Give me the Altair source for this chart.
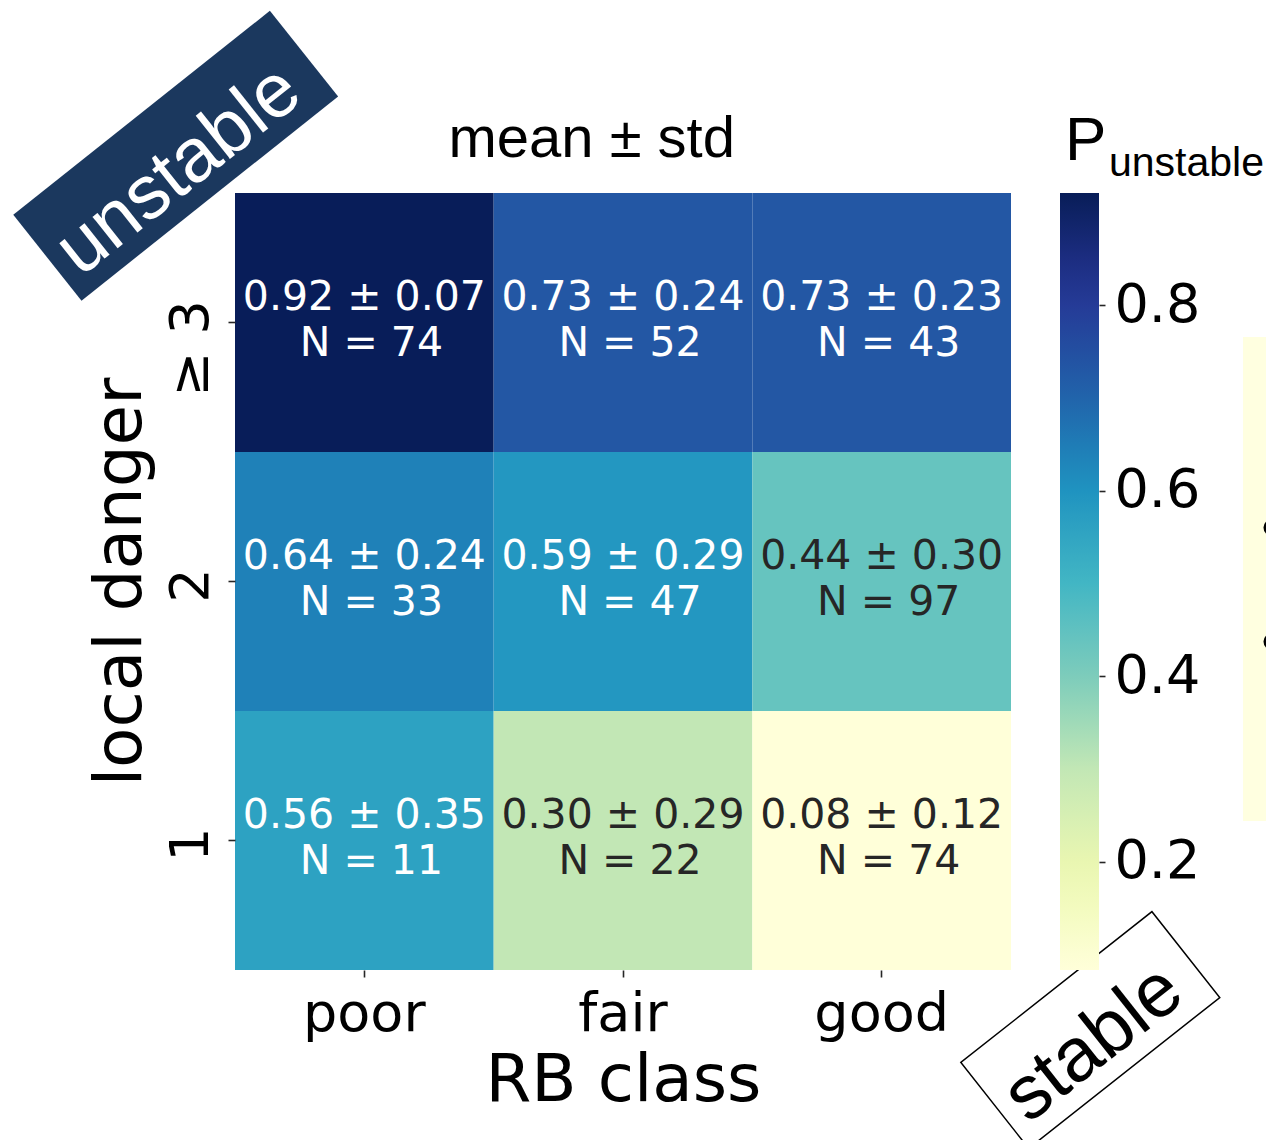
import altair as alt
import pandas as pd

# ---------------- data ----------------
rb_classes = ["poor", "fair", "good"]
danger_levels = ["≥ 3", "2", "1"]          # top -> bottom
means = [[0.92, 0.73, 0.73],
         [0.64, 0.59, 0.44],
         [0.56, 0.30, 0.08]]
stds = [[0.07, 0.24, 0.23],
        [0.24, 0.29, 0.30],
        [0.35, 0.29, 0.12]]
counts = [[74, 52, 43],
          [33, 47, 97],
          [11, 22, 74]]
cbar_ticks = [0.2, 0.4, 0.6, 0.8]
color_lo, color_hi = 0.083, 0.921
ylgnbu = ["#ffffd9", "#edf8b1", "#c7e9b4", "#7fcdbb", "#41b6c4",
          "#1d91c0", "#225ea8", "#253494", "#081d58"]

rows = []
for i, d in enumerate(danger_levels):
    for j, r in enumerate(rb_classes):
        rows.append({
            "rb": r, "danger": d, "mean": means[i][j], "std": stds[i][j],
            "n": counts[i][j],
            "line1": f"{means[i][j]:.2f} ± {stds[i][j]:.2f}",
            "line2": f"N = {counts[i][j]}",
        })
df = pd.DataFrame(rows)

# colour stops spread evenly over the colour-bar range (piecewise-linear YlGnBu)
nstops = len(ylgnbu)
color_stops = [color_lo + k * (color_hi - color_lo) / (nstops - 1) for k in range(nstops)]

W, H = 776, 777
DV = "DejaVu Sans"
AR = "Liberation Sans"

xscale = alt.Scale(type="band", domain=rb_classes, paddingInner=0, paddingOuter=0)
yscale = alt.Scale(type="band", domain=danger_levels, paddingInner=0, paddingOuter=0)

xaxis = alt.Axis(
    title="RB class", labelAngle=0, labelFont=DV, labelFontSize=54, labelColor="black",
    tickSize=7, tickColor="#262626", tickWidth=1.6, domain=False, labelPadding=10,
    titleFont=DV, titleFontSize=66, titleFontWeight="normal", titleColor="black",
    titleBaseline="alphabetic", titleY=130, titleX=W / 2, titleAlign="center",
)
yaxis = alt.Axis(
    title="local danger", labelAngle=270, labelAlign="center", labelBaseline="alphabetic",
    labelFont=DV, labelFontSize=54, labelColor="black", labelPadding=21,
    labelOffset={"condition": {"test": "datum.value === '≥ 3'", "value": 26}, "value": 4},
    tickSize=7, tickColor="#262626", tickWidth=1.6, domain=False,
    titleFont=DV, titleFontSize=66, titleFontWeight="normal", titleColor="black",
    titleAngle=270, titleBaseline="alphabetic", titleAlign="center", titleX=-95, titleY=H / 2,
)

heat = alt.Chart(df).mark_rect().encode(
    x=alt.X("rb:N", scale=xscale, axis=xaxis),
    y=alt.Y("danger:N", scale=yscale, axis=yaxis),
    color=alt.Color(
        "mean:Q",
        scale=alt.Scale(domain=color_stops, range=ylgnbu, interpolate="rgb",
                        clamp=True, zero=False, nice=False),
        legend=alt.Legend(orient="none", legendX=825, legendY=0, direction="vertical",
                          gradientLength=H, gradientThickness=39, title=None,
                          labelOpacity=0, gradientStrokeWidth=0, padding=0),
    ),
)

text_color = alt.condition("datum.mean > 0.5", alt.value("white"), alt.value("#262626"))

def cell_line(field, dy, dx):
    return alt.Chart(df).mark_text(
        font=DV, fontSize=41, baseline="middle", align="center", dy=dy, dx=dx,
    ).encode(
        x=alt.X("rb:N", scale=xscale, axis=xaxis),
        y=alt.Y("danger:N", scale=yscale, axis=None),
        text=f"{field}:N",
        color=text_color,
    )

cell_l1 = cell_line("line1", -25, 0)
cell_l2 = cell_line("line2", 21, 7)

cbar_axis = alt.Chart(pd.DataFrame({"v": cbar_ticks})).mark_point(opacity=0).encode(
    x=alt.value(0),
    y=alt.Y("v:Q", scale=alt.Scale(domain=[color_lo, color_hi], zero=False, nice=False),
            axis=alt.Axis(orient="right", offset=88, values=cbar_ticks, format=".1f",
                          domain=False, grid=False, tickSize=6, tickColor="#262626",
                          tickWidth=1.6, labelFont=DV, labelFontSize=54, labelColor="black",
                          labelPadding=9, title=None, labelOverlap=False)),
)

def txt(s, x, y, **kw):
    return alt.Chart(pd.DataFrame({"t": [s]})).mark_text(**kw).encode(
        text="t:N", x=alt.value(x), y=alt.value(y))

title = txt("mean ± std", 356.7, -36.5, font=AR, fontSize=58, align="center",
            baseline="alphabetic", color="black")
p_main = txt("P", 1065 - 235, 160 - 193, font=AR, fontSize=62, align="left",
             baseline="alphabetic", color="black")
p_sub = txt("unstable", 1109 - 235, 176 - 193, font=AR, fontSize=41, align="left",
            baseline="alphabetic", color="black")

# rotated label boxes
unst_path = "M -1 -0.3343 L 1 -0.3343 L 1 0.3343 L -1 0.3343 Z"
unst_box = alt.Chart(pd.DataFrame({"t": ["unstable"]})).mark_point(
    shape=unst_path, filled=True, color="#1b385e", opacity=1, size=327.9 ** 2, angle=321.5
).encode(x=alt.value(175.7 - 235), y=alt.value(155.7 - 193))
unst_txt = txt("unstable", 178.5 - 235, 170.3 - 193, font=AR, fontSize=76, align="center",
               baseline="middle", color="white", angle=321.5)

st_path = "M -1 -0.4497 L 1 -0.4497 L 1 0.4497 L -1 0.4497 Z"
st_box = alt.Chart(pd.DataFrame({"t": ["stable"]})).mark_point(
    shape=st_path, filled=True, fill="white", stroke="black", strokeWidth=1.5,
    opacity=1, size=243.5 ** 2, angle=321.7
).encode(x=alt.value(1090.3 - 235), y=alt.value(1030 - 193))
st_txt = txt("stable", 1093.5 - 235, 1043.6 - 193, font=AR, fontSize=76, align="center",
             baseline="middle", color="black", angle=321.7)

# cut-off note box on the right edge
note_box = alt.Chart(pd.DataFrame({"t": ["note"]})).mark_rect(color="#ffffe0").encode(
    x=alt.value(1243 - 235), x2=alt.value(1300 - 235),
    y=alt.value(337 - 193), y2=alt.value(821 - 193))
note_t = txt("N", 1262 - 235, 432 - 193, font=AR, fontSize=62, align="left",
             baseline="alphabetic", color="black")
note_b1 = txt("•", 1261 - 235, 548 - 193, font=AR, fontSize=62, align="left",
              baseline="alphabetic", color="black")
note_b2 = txt("•", 1261 - 235, 662 - 193, font=AR, fontSize=62, align="left",
              baseline="alphabetic", color="black")

chart = alt.layer(
    heat, cell_l1, cell_l2, cbar_axis, title, p_main, p_sub,
    unst_box, unst_txt, note_box, note_t, note_b1, note_b2, st_box, st_txt,
).resolve_scale(y="independent").properties(
    width=W, height=H,
    autosize=alt.AutoSizeParams(type="none"),
    padding={"left": 227, "top": 185, "right": 255, "bottom": 170},
).configure_view(stroke=None)

chart.save("out.html", embed_options={"renderer": "svg", "actions": False})
